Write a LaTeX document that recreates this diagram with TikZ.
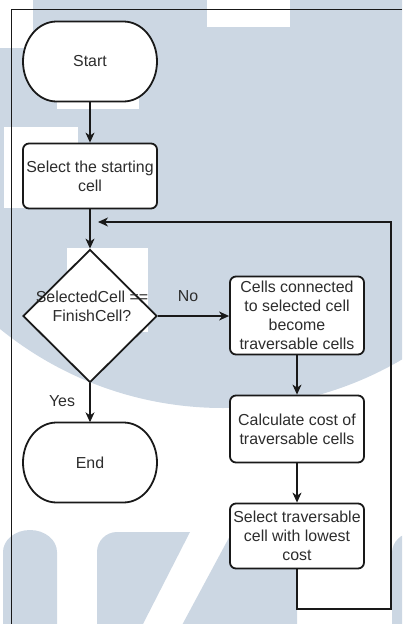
\documentclass[tikz,border=0pt]{standalone}
\usepackage{fontspec}
\setmainfont{Liberation Sans}
\usetikzlibrary{arrows.meta,shapes.geometric}

\definecolor{wmblue}{RGB}{204,215,227}
\definecolor{ink}{RGB}{25,25,25}
\definecolor{txtgray}{RGB}{45,45,45}

\begin{document}
\begin{tikzpicture}[x=1pt,y=-1pt,
  every node/.style={font=\fontsize{15.9}{19.1}\selectfont, text=txtgray},
  procbox/.style={draw=ink, line width=1.8pt, fill=white, rounded corners=6pt,
    minimum width=134pt, align=center, inner sep=0pt},
  termnode/.style={minimum width=134pt, minimum height=80pt, inner sep=0pt},
  termline/.style={draw=ink, line width=1.8pt, fill=white},
  decision/.style={diamond, draw=ink, line width=1.8pt, fill=white,
    minimum width=134pt, minimum height=133pt, inner sep=0pt},
  flow/.style={draw=ink, line width=1.2pt, -{Stealth[length=10pt,width=9pt,inset=3pt]}},
  tag/.style={inner sep=0pt, align=center},
  frameline/.style={draw=ink, line width=1pt}
]
\useasboundingbox (0,0) rectangle (402,624);

% watermark: large disc with square cut-outs, letters along the bottom
\begin{scope}
  \clip (0,0) rectangle (402,624);
  \fill[wmblue] (223,54) circle[radius=354pt];
  \fill[white] (0,0) rectangle (33,48);
  \fill[white] (207,0) rectangle (290,27);
  \fill[white] (57,80) rectangle (139,109);
  \fill[white] (4,127) rectangle (78,208);
  \fill[white] (67,248) rectangle (148,332);
  \fill[wmblue] (3,640) -- (3,552) arc[start angle=180,end angle=0,x radius=27pt,y radius=22pt] -- (57,640) -- cycle;
  \fill[wmblue] (97,640) -- (97,552) arc[start angle=180,end angle=90,radius=20pt] -- (190,532) -- (143,624) -- (143,640) -- cycle;
  \fill[wmblue] (174,640) -- (232,532) -- (297,532) -- (297,640) -- cycle;
  \fill[wmblue] (392,640) -- (392,553) arc[start angle=180,end angle=90,radius=20pt] -- (420,533) -- (420,640) -- cycle;
\end{scope}

% outer frame
\draw[frameline] (402,9) -- (11,9) -- (11,624);

% terminals
\path[termline] (56.5,21.5) -- (123.5,21.5)
  arc[start angle=90,end angle=-90,x radius=33.5pt,y radius=40pt]
  -- (56.5,101.5) arc[start angle=270,end angle=90,x radius=33.5pt,y radius=40pt] -- cycle;
\node[termnode] (start) at (90,61.5) {Start};

\path[termline] (56.5,422.5) -- (123.5,422.5)
  arc[start angle=90,end angle=-90,x radius=33.5pt,y radius=40pt]
  -- (56.5,502.5) arc[start angle=270,end angle=90,x radius=33.5pt,y radius=40pt] -- cycle;
\node[termnode] (endt) at (90,462.5) {End};

% process steps
\node[procbox, minimum height=65pt] (sel1) at (90,176) {Select the starting\\cell};
\node[decision] (dec) at (90,316) {};
\node[tag] (dectext) at (92,306.5) {SelectedCell ==\\FinishCell?};
\node[procbox, minimum height=78pt] (cells) at (297,315.5) {Cells connected\\to selected cell\\become\\traversable cells};
\node[procbox, minimum height=67pt] (calc) at (297,429) {Calculate cost of\\traversable cells};
\node[procbox, minimum height=65pt] (seltr) at (297,536) {Select traversable\\cell with lowest\\cost};

% branch labels
\node[tag] (nolab) at (188,296) {No};
\node[tag] (yeslab) at (62,401) {Yes};

% connectors
\coordinate (loopR) at (391,609);
\coordinate (loopin) at (98,222);
\draw[flow] (start) -- (sel1);
\draw[flow] (sel1) -- (dec);
\draw[flow] (dec.east) -- (dec.east -| cells.west);
\draw[flow] (dec) -- (endt);
\draw[flow] (cells) -- (calc);
\draw[flow] (calc) -- (seltr);
\draw[flow] (seltr.south) |- (loopR) |- (loopin);
\end{tikzpicture}
\end{document}
